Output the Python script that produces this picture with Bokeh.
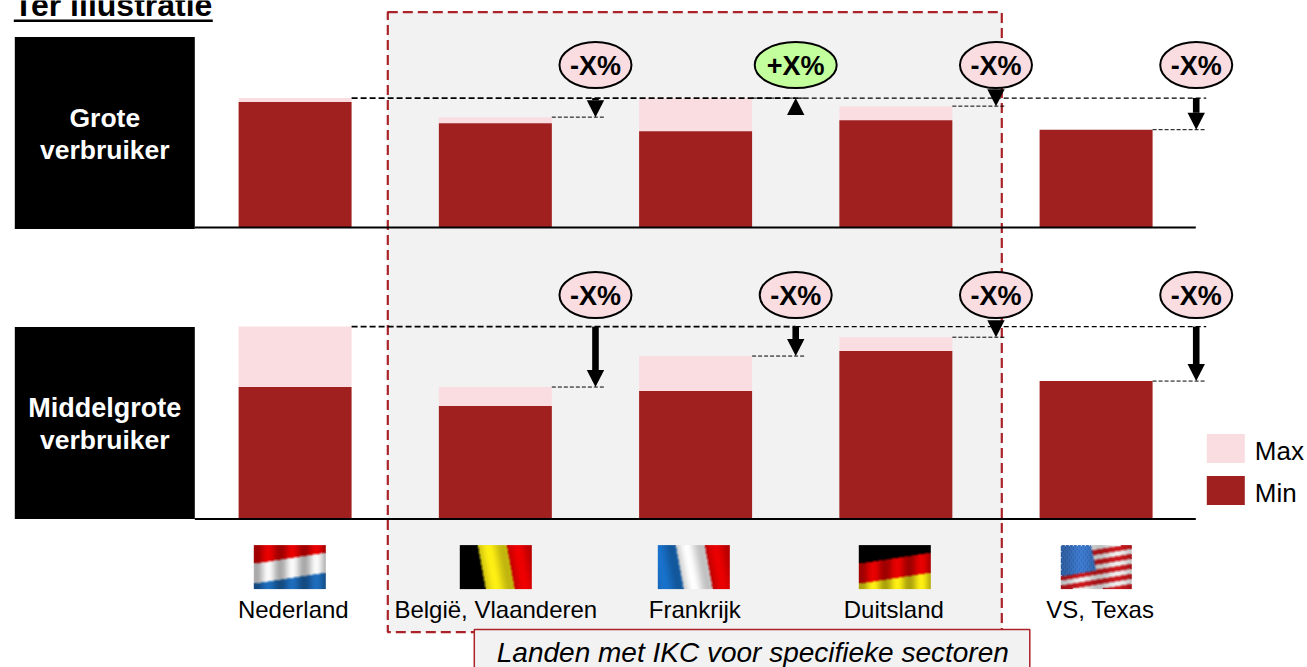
import numpy as np
from bokeh.plotting import figure
from bokeh.models import Range1d
from bokeh.core.properties import value
from bokeh.embed import file_html
from bokeh.resources import INLINE

countries = ["Nederland", "België, Vlaanderen", "Frankrijk", "Duitsland", "VS, Texas"]
# index, Netherlands max = 100
grote_min = [96.9, 80.6, 74.4, 82.9, 75.6]
grote_max = [100.0, 85.3, 100.0, 93.8, 75.6]
middel_min = [68.6, 58.7, 66.5, 87.3, 71.7]
middel_max = [100.0, 68.6, 84.7, 94.5, 71.7]
labels_grote = ["-X%", "+X%", "-X%", "-X%"]
labels_middel = ["-X%", "-X%", "-X%", "-X%"]

DARK, PINK, GREEN, GREY, RED = "#a02020", "#f9dde1", "#c3ff9c", "#f2f2f2", "#ab2328"
W, H = 1307, 667
OX, OY = 0.7, 0.4
X0, XS = 295.3, 200.25
T_BASE, T_H = 227.5, 129.5
B_BASE, B_H = 519.0, 192.5
ARIAL = value("Liberation Sans")

p = figure(width=W, height=H, output_backend="svg", toolbar_location=None,
           x_range=Range1d(OX, W + OX), y_range=Range1d(H + OY, OY),
           min_border=0, outline_line_color=None,
           background_fill_color="white", border_fill_color="white")
p.xaxis.visible = False
p.yaxis.visible = False
p.grid.visible = False
p.extra_x_ranges = {"idx": Range1d((OX - X0) / XS, (W + OX - X0) / XS)}
p.extra_y_ranges = {
    "top": Range1d((T_BASE - H - OY) * 100 / T_H, (T_BASE - OY) * 100 / T_H),
    "bot": Range1d((B_BASE - H - OY) * 100 / B_H, (B_BASE - OY) * 100 / B_H),
}

def txt(x, y, s, size, color="black", style="normal", align="center"):
    # y is the text's alphabetic baseline in the reference
    p.text(x=[x], y=[y + 0.6 - 0.35 * size], text=[s], text_font=ARIAL, text_font_size=f"{size}px",
           text_color=color, text_font_style=style, text_align=align,
           text_baseline="middle")

p.quad(left=[388], right=[1002], top=[12], bottom=[632], fill_color=GREY,
       line_color=RED, line_width=2.2, line_dash="10 5")

txt(14, 15, "Ter illustratie", 32, style="bold", align="left")
p.quad(left=[14], right=[213], top=[19.5], bottom=[22], fill_color="black", line_color=None)

p.quad(left=[15, 15], right=[195, 195], top=[37, 327], bottom=[229, 519],
       fill_color="black", line_color=None)
txt(105, 127, "Grote", 26.5, "white", "bold")
txt(105, 159, "verbruiker", 26.5, "white", "bold")
txt(105, 417, "Middelgrote", 27, "white", "bold")
txt(105, 449, "verbruiker", 26.5, "white", "bold")

idx = list(range(len(countries)))
BW = 113 / XS
HEAD_L, HEAD_W = 17.0, 8.7 / XS
SHAFT = 3.3 / XS

def panel(rng, vmin, vmax, h, pill_y, labels, base):
    kw = dict(x_range_name="idx", y_range_name=rng)
    p.vbar(x=idx, width=BW, bottom=vmin, top=vmax, fill_color=PINK, line_color=None, **kw)
    p.vbar(x=idx, width=BW, bottom=0, top=vmin, fill_color=DARK, line_color=None, **kw)
    p.segment(x0=[195], x1=[1196], y0=[base], y1=[base], line_color="black", line_width=2)
    ref = vmax[0]
    p.segment(x0=[0 + BW / 2], x1=[2.5], y0=[ref], y1=[ref], line_color="black",
              line_width=1.6, line_dash="6 3", **kw)
    p.segment(x0=[2.5], x1=[4.55], y0=[ref], y1=[ref], line_color="black",
              line_width=1.1, line_dash="5 3", **kw)
    hl = HEAD_L / h * 100
    for i in range(1, 5):
        t = vmax[i]
        ax = i + 0.5
        p.segment(x0=[i + BW / 2], x1=[ax + 0.045], y0=[t], y1=[t], line_color="black",
                  line_width=1, line_dash="4 2", **kw)
        if t >= ref:
            p.patch(x=[ax, ax - HEAD_W, ax + HEAD_W], y=[t, t - hl, t - hl],
                    fill_color="black", line_color=None, **kw)
        else:
            p.patch(x=[ax, ax - HEAD_W, ax + HEAD_W], y=[t, t + hl, t + hl],
                    fill_color="black", line_color=None, **kw)
            if t + hl < ref:
                p.quad(left=[ax - SHAFT], right=[ax + SHAFT], bottom=[t + hl], top=[ref],
                       fill_color="black", line_color=None, **kw)
    for i, s in enumerate(labels):
        px = X0 + XS * (i + 1.5)
        plus = s.startswith("+")
        p.ellipse(x=[px], y=[pill_y], width=[82 if plus else 72], height=[46],
                  fill_color=GREEN if plus else PINK, line_color="black", line_width=2)
        txt(px, pill_y + 10, s, 27, style="bold")

panel("top", grote_min, grote_max, T_H, 65, labels_grote, T_BASE)
panel("bot", middel_min, middel_max, B_H, 295, labels_middel, B_BASE)

p.quad(left=[1207, 1207], right=[1245, 1245], top=[434, 476], bottom=[463, 505],
       fill_color=[PINK, DARK], line_color=None)
txt(1255, 459.5, "Max", 26, align="left")
txt(1255, 501.5, "Min", 26, align="left")

def folds(xx, period=24.0, amp=0.16, phase=0.0):
    return 1.0 - amp + amp * np.cos(2 * np.pi * (xx - phase) / period)

def soften(rgb):
    out = rgb.copy()
    for ax in (0, 1):
        out = (np.roll(out, 1, ax) + out + np.roll(out, -1, ax)) / 3
    out[0], out[-1] = rgb[0], rgb[-1]
    out[:, 0], out[:, -1] = rgb[:, 0], rgb[:, -1]
    return out

def finish(rgb, shade):
    out = np.clip(soften(rgb) * shade[..., None], 0, 255).astype(np.uint8)
    a = np.full(out.shape[:2] + (1,), 255, np.uint8)
    rgba = np.concatenate([out, a], axis=2)
    return rgba.view(np.uint32).reshape(rgba.shape[:2])

def horiz(c1, c2, c3, nw=72, nh=44):
    yy, xx = np.mgrid[0:nh, 0:nw].astype(float)
    y = yy + xx * 11 / nw
    rgb = np.zeros((nh, nw, 3))
    rgb[y < 18] = c1
    rgb[(y >= 18) & (y < 38)] = c2
    rgb[y >= 38] = c3
    return finish(rgb, folds(xx, phase=14))

def vert(c1, c2, c3, nw=72, nh=44):
    yy, xx = np.mgrid[0:nh, 0:nw].astype(float)
    x = xx - yy * 8 / nh
    rgb = np.zeros((nh, nw, 3))
    rgb[x < 17.5] = c1
    rgb[(x >= 17.5) & (x < 46.5)] = c2
    rgb[x >= 46.5] = c3
    return finish(rgb, folds(x, period=29, amp=0.12, phase=28))

def usa(nw=71, nh=44):
    yy, xx = np.mgrid[0:nh, 0:nw].astype(float)
    y = yy + xx * 12 / nw
    rgb = np.full((nh, nw, 3), 240.0)
    rgb[(np.floor(y / 5.0).astype(int) % 2) == 0] = (205, 25, 30)
    canton = (y < 31) & (xx < 30 + yy * 0.2)
    rgb[canton] = (45, 110, 200)
    stars = canton & (np.mod(xx + np.mod(np.floor(yy / 3), 2) * 2, 4) < 1) & (np.mod(yy, 3) < 1)
    rgb[stars] = (235, 240, 250)
    return finish(rgb, folds(xx, period=36, amp=0.1, phase=20))

flags = [
    horiz((235, 0, 0), (250, 250, 250), (30, 110, 190)),
    vert((0, 0, 0), (255, 240, 20), (240, 0, 0)),
    vert((25, 115, 205), (255, 255, 255), (235, 0, 0)),
    horiz((0, 0, 0), (235, 0, 0), (255, 240, 20)),
    usa(),
]
flag_x = [254, 460, 658, 859, 1061]
for fx, img in zip(flag_x, flags):
    p.image_rgba(image=[img], x=[fx], y=[545], dw=[img.shape[1]], dh=[44])

label_x = [293.5, 496, 695, 894, 1100.5]
for lx, s in zip(label_x, countries):
    txt(lx, 617, s, 24)

p.quad(left=[474.5], right=[1030], top=[629.5], bottom=[680], fill_color=GREY,
       line_color=RED, line_width=1.5)
txt(753, 662, "Landen met IKC voor specifieke sectoren", 28, style="italic")

open("out.html", "w").write(file_html(p, INLINE))
